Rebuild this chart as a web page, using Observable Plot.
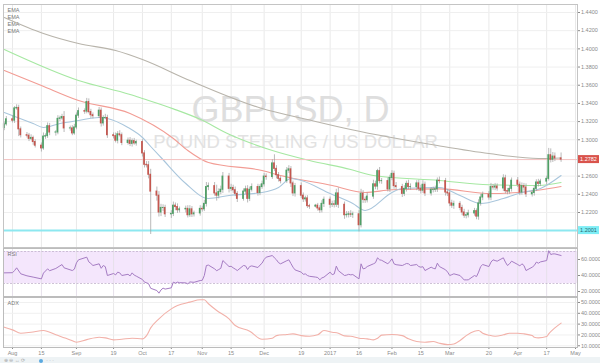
<!DOCTYPE html>
<html><head><meta charset="utf-8">
<script src="https://cdn.jsdelivr.net/npm/d3@7"></script>
<script src="https://cdn.jsdelivr.net/npm/@observablehq/plot@0.6"></script>
<style>
body{margin:0;background:#fff;}
#chart{position:relative;width:600px;height:363px;overflow:hidden;background:#fff;font-family:"Liberation Sans",Arial,sans-serif;}
#chart svg{position:absolute;left:0;}
#bar{position:absolute;left:0;top:357px;width:600px;height:6px;background:#eef3f5;font-size:5px;color:#aaa;line-height:6px;padding-left:4px;}
#bar b{display:inline-block;width:4px;height:4px;border-radius:2px;background:#5aa9e0;vertical-align:middle;margin:0 3px 0 14px;}
</style></head><body><div id="chart"><div id="bar">&#8853; &#8854; &#8596; &#10227;<b></b>&#183; &#183; &#183;</div></div>
<script>
// ---------- data ----------
const title = "GBPUSD, D";
const subtitle = "POUND STERLING / US DOLLAR";
const emaNames = ["EMA", "EMA", "EMA", "EMA"];
const firstDay = "2016-07-28", lastDay = "2017-04-24";
const firstOpen = 1.3130;
const closeJul = [1.3170, 1.3225];
const closeAug = [1.3210,1.3345,1.3350,1.3115,1.3050, 1.3045,1.3010,1.3020,1.2975,1.2935, 1.2905,1.3035,1.3040,1.3150,1.3080, 1.3080,1.3230,1.3235,1.3250,1.3125, 1.3125,1.3070,1.3135];
const closeSep = [1.3265,1.3315, 1.3310,1.3415,1.3305,1.3270,1.3260, 1.3320,1.3180,1.3240,1.3240,1.3050, 1.3040,1.2990,1.3060,1.3050,1.2965, 1.2990,1.2955,1.2985,1.2960,1.2975];
const closeOct = [1.2850,1.2725,1.2720,1.2615,1.2430, 1.2385,1.2200,1.2250,1.2250,1.2180, 1.2185,1.2275,1.2260,1.2225,1.2235, 1.2240,1.2170,1.2235,1.2180,1.2190, 1.2240];
const closeNov = [1.2235,1.2295,1.2480,1.2490, 1.2410,1.2385,1.2425,1.2450,1.2595, 1.2460,1.2470,1.2445,1.2405,1.2350, 1.2430,1.2455,1.2350,1.2450,1.2480, 1.2415,1.2480,1.2510];
const closeDec = [1.2595,1.2590, 1.2740,1.2680,1.2610,1.2570,1.2545, 1.2660,1.2675,1.2520,1.2410,1.2490, 1.2385,1.2345,1.2355,1.2270,1.2265, 1.2275,1.2245,1.2225,1.2295,1.2340];
const closeJan = [1.2285,1.2290,1.2285,1.2410,1.2285, 1.2170,1.2175,1.2180,1.2175,1.2180, 1.2060,1.2405,1.2340,1.2335,1.2375, 1.2510,1.2485,1.2655,1.2545,1.2545, 1.2455,1.2580];
const closeFeb = [1.2625,1.2490,1.2480, 1.2405,1.2460,1.2515,1.2480,1.2480, 1.2520,1.2460,1.2440,1.2505,1.2410, 1.2450,1.2450,1.2455,1.2550,1.2545, 1.2420,1.2410];
const closeMar = [1.2300,1.2275,1.2295, 1.2250,1.2200,1.2165,1.2170,1.2190, 1.2215,1.2155,1.2300,1.2365,1.2395, 1.2365,1.2480,1.2475,1.2485,1.2465, 1.2575,1.2435,1.2430,1.2460,1.2550];
const closeApr = [1.2505,1.2420,1.2490,1.2475,1.2400, 1.2415,1.2460,1.2530,1.2515,1.2540, 1.2570,1.2830,1.2780,1.2815,1.2795, 1.2782];
// wick lengths in pips above / below the body
const wickUp = [25,30,
 40,20,35,30,25, 30,25,35,20,25, 30,40,25,35,30, 20,35,25,30,60, 25,30,35,
 30,35, 25,40,35,30,25, 35,30,25,40,30, 25,35,30,40,25, 30,35,25,30,20,
 25,30,35,40,60, 50,45,40,35,30, 35,40,30,35,25, 30,35,40,30,25, 35,
 30,40,50,35, 40,90,35,40,45, 35,40,30,35,25, 30,35,40,30,35, 30,25,35,
 35,30, 40,95,35,30,25, 35,40,30,25,30, 35,30,25,30,20, 15,25,30,35,30,
 30,35,40,45,60, 30,35,30,40,25, 40,50,35,30,40, 45,35,20,40,30, 35,30,
 35,30,40, 30,35,30,40,35, 30,35,40,45,30, 25,30,35,30,40, 30,35,
 30,35,30, 25,30,35,30,35, 30,25,40,35,30, 35,40,30,35,30, 40,35,30,35,30,
 35,30,35,30,40, 30,35,30,35,25, 30,75,70,45,40, 60];
const wickDown = [30,20,
 25,30,20,80,30, 25,30,20,35,25, 40,20,30,25,35, 40,25,30,20,45, 30,25,20,
 25,30, 30,25,20,35,30, 25,40,30,20,35, 30,25,35,20,30, 25,30,35,20,30,
 40,35,30,45,472, 60,50,45,40,35, 45,30,40,35,30, 40,30,25,35,30, 30,
 30,25,35,40, 30,60,35,30,40, 45,30,35,30,40, 25,30,45,30,25, 35,30,25,
 30,35, 25,30,40,35,30, 25,30,45,35,40, 30,35,30,25,30, 15,30,35,30,40,
 40,30,35,30,40, 45,30,35,30,40, 74,30,40,35,30, 30,35,40,30,35, 30,35,
 30,35,30, 40,30,35,30,35, 40,30,35,30,35, 30,35,30,35,30, 40,35,
 35,30,40, 30,35,30,35,30, 30,35,40,30,35, 30,35,30,35,30, 35,30,35,30,35,
 30,35,30,40,35, 30,35,30,35,30, 35,25,35,30,35, 30];
const ema200 = [["2016-07-28",1.4345],["2016-08-16",1.4169],["2016-09-02",1.4059],["2016-09-20",1.3982],["2016-10-03",1.3883],["2016-10-26",1.3652],["2016-11-30",1.3344],["2016-12-22",1.3223],["2017-01-12",1.3113],["2017-02-23",1.2937],["2017-03-20",1.2849],["2017-04-13",1.2794],["2017-04-24",1.2800]];
const ema100 = [["2016-07-28",1.3993],["2016-09-02",1.3652],["2016-09-27",1.3498],["2016-10-03",1.3454],["2016-10-18",1.3340],["2016-10-31",1.3225],["2016-11-14",1.3060],["2016-12-05",1.2882],["2016-12-23",1.2772],["2017-01-12",1.2673],["2017-01-23",1.2607],["2017-02-24",1.2552],["2017-03-20",1.2505],["2017-04-13",1.2497],["2017-04-24",1.2530]];
const ema50 = [["2016-07-28",1.3762],["2016-08-15",1.3597],["2016-09-02",1.3432],["2016-09-27",1.3289],["2016-10-18",1.3014],["2016-10-25",1.2882],["2016-11-04",1.2750],["2016-11-30",1.2662],["2016-12-09",1.2607],["2017-01-03",1.2497],["2017-01-19",1.2420],["2017-02-01",1.2450],["2017-02-24",1.2460],["2017-03-21",1.2409],["2017-04-03",1.2420],["2017-04-24",1.2486]];
const ema20 = [["2016-07-28",1.3300],["2016-08-11",1.3179],["2016-08-16",1.3135],["2016-08-24",1.3179],["2016-09-02",1.3212],["2016-09-12",1.3245],["2016-09-16",1.3234],["2016-09-26",1.3135],["2016-10-03",1.3025],["2016-10-07",1.2926],["2016-10-12",1.2805],["2016-10-24",1.2519],["2016-11-04",1.2354],["2016-11-14",1.2387],["2016-11-30",1.2420],["2016-12-08",1.2475],["2016-12-14",1.2574],["2016-12-19",1.2552],["2017-01-02",1.2409],["2017-01-13",1.2299],["2017-01-19",1.2222],["2017-02-01",1.2420],["2017-02-06",1.2464],["2017-02-24",1.2475],["2017-03-06",1.2387],["2017-03-16",1.2299],["2017-03-27",1.2354],["2017-04-05",1.2420],["2017-04-14",1.2464],["2017-04-24",1.2607]];
const rsi = [["2016-07-28",43.3],["2016-08-01",43.5],["2016-08-02",46.2],["2016-08-03",49.6],["2016-08-05",42.1],["2016-08-08",39.6],["2016-08-11",38],["2016-08-15",35.8],["2016-08-16",43],["2016-08-18",48.3],["2016-08-19",46],["2016-08-22",48.8],["2016-08-24",52.1],["2016-08-25",53.7],["2016-08-26",49.6],["2016-08-30",46.2],["2016-08-31",48],["2016-09-01",55.8],["2016-09-02",59.6],["2016-09-06",62.9],["2016-09-07",57],["2016-09-08",55],["2016-09-09",52.5],["2016-09-12",54.6],["2016-09-13",49],["2016-09-14",52.5],["2016-09-15",51],["2016-09-16",40],["2016-09-19",42.5],["2016-09-20",40.8],["2016-09-21",44.2],["2016-09-22",43.3],["2016-09-23",40],["2016-09-26",41.5],["2016-09-27",39.5],["2016-09-28",43.3],["2016-09-29",40.5],["2016-09-30",39.2],["2016-10-03",35],["2016-10-04",31.7],["2016-10-05",31],["2016-10-06",29.6],["2016-10-07",24],["2016-10-10",21.2],["2016-10-11",17.9],["2016-10-12",22],["2016-10-13",24.2],["2016-10-14",23],["2016-10-17",24.6],["2016-10-18",31.7],["2016-10-19",30.5],["2016-10-20",31.7],["2016-10-21",31],["2016-10-24",30.8],["2016-10-25",29.5],["2016-10-26",32],["2016-10-27",31.7],["2016-10-28",31.5],["2016-10-31",33.7],["2016-11-01",34],["2016-11-02",40],["2016-11-03",52.5],["2016-11-04",53],["2016-11-07",48.3],["2016-11-08",46],["2016-11-09",47.5],["2016-11-10",49],["2016-11-11",58.7],["2016-11-14",51.2],["2016-11-15",51.5],["2016-11-16",49.6],["2016-11-17",48],["2016-11-18",46.2],["2016-11-21",52.5],["2016-11-22",52],["2016-11-23",47.5],["2016-11-24",51.2],["2016-11-25",52],["2016-11-28",50],["2016-11-29",53],["2016-11-30",55.4],["2016-12-01",60],["2016-12-02",62.9],["2016-12-05",65],["2016-12-06",62],["2016-12-07",59.6],["2016-12-08",56],["2016-12-09",54.6],["2016-12-12",58.5],["2016-12-13",59.6],["2016-12-14",55],["2016-12-15",50.4],["2016-12-16",47],["2016-12-19",44.2],["2016-12-20",41.5],["2016-12-21",42],["2016-12-22",40],["2016-12-23",39],["2016-12-26",38],["2016-12-27",37.5],["2016-12-28",34.6],["2016-12-29",37],["2016-12-30",37.9],["2017-01-02",44.2],["2017-01-03",41],["2017-01-04",42],["2017-01-05",51.7],["2017-01-06",46],["2017-01-09",40],["2017-01-10",40.5],["2017-01-11",41.5],["2017-01-12",40.8],["2017-01-13",41.2],["2017-01-16",35.8],["2017-01-17",54.6],["2017-01-18",48.3],["2017-01-19",49],["2017-01-20",51.2],["2017-01-23",54.6],["2017-01-24",56],["2017-01-25",62.1],["2017-01-26",59.6],["2017-01-27",59],["2017-01-30",54.6],["2017-01-31",57.5],["2017-02-01",60.8],["2017-02-02",54.6],["2017-02-03",53.5],["2017-02-06",52.5],["2017-02-07",53.7],["2017-02-08",55],["2017-02-09",54.6],["2017-02-10",52.5],["2017-02-13",53.7],["2017-02-14",51.2],["2017-02-15",50.4],["2017-02-16",51],["2017-02-17",46.2],["2017-02-20",50.4],["2017-02-21",49],["2017-02-22",48.3],["2017-02-23",55.4],["2017-02-24",51.2],["2017-02-27",47.1],["2017-02-28",44.2],["2017-03-01",40],["2017-03-02",41],["2017-03-03",42.1],["2017-03-06",40],["2017-03-07",37.1],["2017-03-08",34.6],["2017-03-09",34.5],["2017-03-10",34.6],["2017-03-13",40],["2017-03-14",38.7],["2017-03-15",44.2],["2017-03-16",51.2],["2017-03-17",53.7],["2017-03-20",51.2],["2017-03-21",56.7],["2017-03-22",59.6],["2017-03-23",58.7],["2017-03-24",57.9],["2017-03-27",62.1],["2017-03-28",56.7],["2017-03-29",52.5],["2017-03-30",54.6],["2017-03-31",57.9],["2017-04-03",53.7],["2017-04-04",52],["2017-04-05",54.6],["2017-04-06",52.5],["2017-04-07",46.2],["2017-04-10",50.4],["2017-04-11",52.5],["2017-04-12",56.7],["2017-04-13",55.4],["2017-04-14",57],["2017-04-17",58.7],["2017-04-18",71],["2017-04-19",66.2],["2017-04-20",67],["2017-04-21",67],["2017-04-24",65]];
const adx = [["2016-07-28",27.2],["2016-08-01",24.7],["2016-08-05",21.6],["2016-08-10",22.5],["2016-08-16",24.1],["2016-08-22",20.1],["2016-08-29",15.4],["2016-09-01",13.3],["2016-09-06",15.7],["2016-09-12",17.9],["2016-09-15",17.3],["2016-09-19",15.4],["2016-09-23",16],["2016-09-28",17],["2016-10-03",16.4],["2016-10-05",19.4],["2016-10-07",26.5],["2016-10-11",34.9],["2016-10-17",44.1],["2016-10-20",47.2],["2016-10-26",50.3],["2016-10-31",52.5],["2016-11-02",52.5],["2016-11-04",48.8],["2016-11-08",42.6],["2016-11-14",34.9],["2016-11-17",28.7],["2016-11-24",23.5],["2016-11-30",16],["2016-12-05",17],["2016-12-07",19.4],["2016-12-12",20.4],["2016-12-15",21],["2016-12-19",19.4],["2016-12-23",18.8],["2016-12-27",20.1],["2016-12-30",24.1],["2017-01-03",22.5],["2017-01-06",21.6],["2017-01-09",19.1],["2017-01-12",18.8],["2017-01-16",17],["2017-01-20",16.4],["2017-01-23",15.4],["2017-01-25",17],["2017-01-27",19.8],["2017-02-01",20.4],["2017-02-06",19.4],["2017-02-09",16.4],["2017-02-13",13.9],["2017-02-17",13.3],["2017-02-21",13.9],["2017-02-24",12.3],["2017-02-28",11.1],["2017-03-03",11.7],["2017-03-06",14.8],["2017-03-09",19.4],["2017-03-13",23.5],["2017-03-15",24.1],["2017-03-17",21.6],["2017-03-20",19.8],["2017-03-23",18.8],["2017-03-27",20.1],["2017-03-30",21.6],["2017-04-03",21.6],["2017-04-06",21],["2017-04-10",19.4],["2017-04-11",17.9],["2017-04-13",17.3],["2017-04-17",18.5],["2017-04-18",21],["2017-04-21",26.5],["2017-04-24",30.9]];
const currentPrice = 1.2782;
const supportLevel = 1.2001;
const priceTicks = [1.22,1.24,1.26,1.30,1.32,1.34,1.36,1.38,1.40,1.42,1.44];
const rsiTicks = [20,40,60];
const adxTicks = [10,20,30,40,50];
const rsiBand = [30,70];
const xTickDates = ["2016-08-01","2016-08-15","2016-09-01","2016-09-19","2016-10-03","2016-10-17","2016-11-01","2016-11-15","2016-12-01","2016-12-19","2017-01-02","2017-01-16","2017-02-01","2017-02-15","2017-03-01","2017-03-20","2017-04-03","2017-04-17","2017-05-01"];
const xTickLabels = ["Aug","15","Sep","19","Oct","17","Nov","15","Dec","19","2017","16","Feb","15","Mar","20","Apr","17","May"];

// ---------- build ----------
const W = 600, ML = 3, MR = 23;
const xDomain = [new Date("2016-07-27T15:00Z"), new Date("2017-05-01T23:00Z")];
const closes = [...closeJul,...closeAug,...closeSep,...closeOct,...closeNov,...closeDec,...closeJan,...closeFeb,...closeMar,...closeApr];
const days = d3.utcDays(new Date(firstDay), d3.utcDay.offset(new Date(lastDay), 1)).filter(d => d.getUTCDay() % 6 !== 0);
const candles = days.map((d, i) => {
  const o = i ? closes[i-1] : firstOpen, c = closes[i];
  return {date: d, o, c, h: Math.max(o, c) + wickUp[i] / 1e4, l: Math.min(o, c) - wickDown[i] / 1e4, up: c >= o};
});
const pairs = a => a.map(([d, v]) => ({date: new Date(d), v}));
const xTicks = xTickDates.map(d => new Date(d));
const labelOf = new Map(xTicks.map((d, i) => [+d, xTickLabels[i]]));
const fmt4 = d => d.toFixed(4);
const baseStyle = {fontFamily: "Liberation Sans, Arial, sans-serif", fontSize: "5.5px", color: "#8a8a8a", background: "transparent", overflow: "visible"};
const GREEN = "#4f9f66", RED = "#c4564e";
const chart = document.getElementById("chart");

const main = Plot.plot({
  width: W, height: 248, marginTop: 4, marginBottom: 1, marginLeft: ML, marginRight: MR,
  style: baseStyle,
  x: {type: "utc", domain: xDomain, axis: null},
  y: {domain: [1.1815, 1.4488], axis: "right", ticks: priceTicks, tickFormat: fmt4, tickSize: 2, tickPadding: 1.5, label: null},
  color: {type: "identity"},
  marks: [
    Plot.ruleX(xTicks, {stroke: "#e9e9e9"}),
    Plot.ruleY(priceTicks, {stroke: "#efefef"}),
    Plot.text([title], {frameAnchor: "middle", dx: 0, dy: -16, fontSize: 36, fill: "#dedede", fontFamily: "Liberation Sans, Arial, sans-serif"}),
    Plot.text([subtitle], {frameAnchor: "middle", dx: 5, dy: 16, fontSize: 18.5, fill: "#e2e2e2", fontFamily: "Liberation Sans, Arial, sans-serif"}),
    Plot.text([emaNames.join("\n")], {frameAnchor: "top-left", lineAnchor: "top", dx: 4, dy: 3, lineHeight: 1.25, fontSize: 5.5, fill: "#777"}),
    Plot.line(pairs(ema200), {x: "date", y: "v", stroke: "#b8b4ab", strokeWidth: 1.1, curve: "monotone-x"}),
    Plot.line(pairs(ema100), {x: "date", y: "v", stroke: "#a6e8a2", strokeWidth: 1.1, curve: "monotone-x"}),
    Plot.line(pairs(ema50), {x: "date", y: "v", stroke: "#f29c94", strokeWidth: 1.1, curve: "monotone-x"}),
    Plot.line(pairs(ema20), {x: "date", y: "v", stroke: "#a9c6dc", strokeWidth: 1.1, curve: "monotone-x"}),
    Plot.ruleY([currentPrice], {stroke: "#f3c2c0", strokeWidth: 1}),
    Plot.ruleY([supportLevel], {stroke: "#8de8f0", strokeWidth: 2}),
    Plot.ruleX(candles, {x: "date", y1: "l", y2: "h", stroke: "#9c9c9c", strokeWidth: 0.7}),
    Plot.rect(candles, {x1: d => d3.utcHour.offset(d.date, -10), x2: d => d3.utcHour.offset(d.date, 10), y1: "o", y2: "c", fill: d => d.up ? GREEN : RED, insetTop: -0.5, insetBottom: -0.5}),
    Plot.frame({stroke: "#c4c4c4"})
  ]
});
main.style.top = "0px";
chart.appendChild(main);

// price tags on the right axis, placed with the plot's own y scale
const yMain = main.scale("y");
function tag(value, bg, fg) {
  const y = yMain.apply(value);
  const g = d3.select(main).append("g");
  g.append("rect").attr("x", W - MR + 1).attr("y", y - 4).attr("width", 21).attr("height", 8).attr("fill", bg);
  g.append("text").attr("x", W - MR + 11.5).attr("y", y).attr("dy", "0.35em").attr("text-anchor", "middle")
    .attr("font-size", 5.5).attr("fill", fg).text(value.toFixed(4));
}
tag(currentPrice, "#d9534c", "#fff");
tag(supportLevel, "#7eeef6", "#2a6a70");

const rsiPlot = Plot.plot({
  width: W, height: 48, marginTop: 0, marginBottom: 0, marginLeft: ML, marginRight: MR,
  style: baseStyle,
  x: {type: "utc", domain: xDomain, axis: null},
  y: {domain: [13.75, 73.75], axis: "right", ticks: rsiTicks, tickFormat: fmt4, tickSize: 2, tickPadding: 1.5, label: null},
  marks: [
    Plot.rect([rsiBand], {y1: d => d[0], y2: d => d[1], fill: "#f4e6fc"}),
    Plot.ruleX(xTicks, {stroke: "#e6e0ea"}),
    Plot.ruleY(rsiBand, {stroke: "#c2b3cc", strokeDasharray: "2,1.5", strokeWidth: 0.8}),
    Plot.text(["RSI"], {frameAnchor: "top-left", lineAnchor: "top", dx: 4, dy: 4, fontSize: 5.5, fill: "#777"}),
    Plot.line(pairs(rsi), {x: "date", y: "v", stroke: "#a57cc3", strokeWidth: 1}),
    Plot.frame({stroke: "#bcbcbc"})
  ]
});
rsiPlot.style.top = "248px";
chart.appendChild(rsiPlot);

const adxPlot = Plot.plot({
  width: W, height: 66, marginTop: 0, marginBottom: 16, marginLeft: ML, marginRight: MR,
  style: baseStyle,
  x: {type: "utc", domain: xDomain, axis: "bottom", ticks: xTicks, tickFormat: d => labelOf.get(+d), tickSize: 2, tickPadding: 1.5, label: null},
  y: {domain: [8.4, 54.6], axis: "right", ticks: adxTicks, tickFormat: fmt4, tickSize: 2, tickPadding: 1.5, label: null},
  marks: [
    Plot.ruleX(xTicks, {stroke: "#e9e9e9"}),
    Plot.ruleY(adxTicks, {stroke: "#f0f0f0"}),
    Plot.text(["ADX"], {frameAnchor: "top-left", lineAnchor: "top", dx: 4, dy: 4, fontSize: 5.5, fill: "#777"}),
    Plot.line(pairs(adx), {x: "date", y: "v", stroke: "#f2b1a9", strokeWidth: 1.1, curve: "monotone-x"}),
    Plot.frame({stroke: "#bcbcbc"})
  ]
});
adxPlot.style.top = "297px";
chart.appendChild(adxPlot);
</script></body></html>
